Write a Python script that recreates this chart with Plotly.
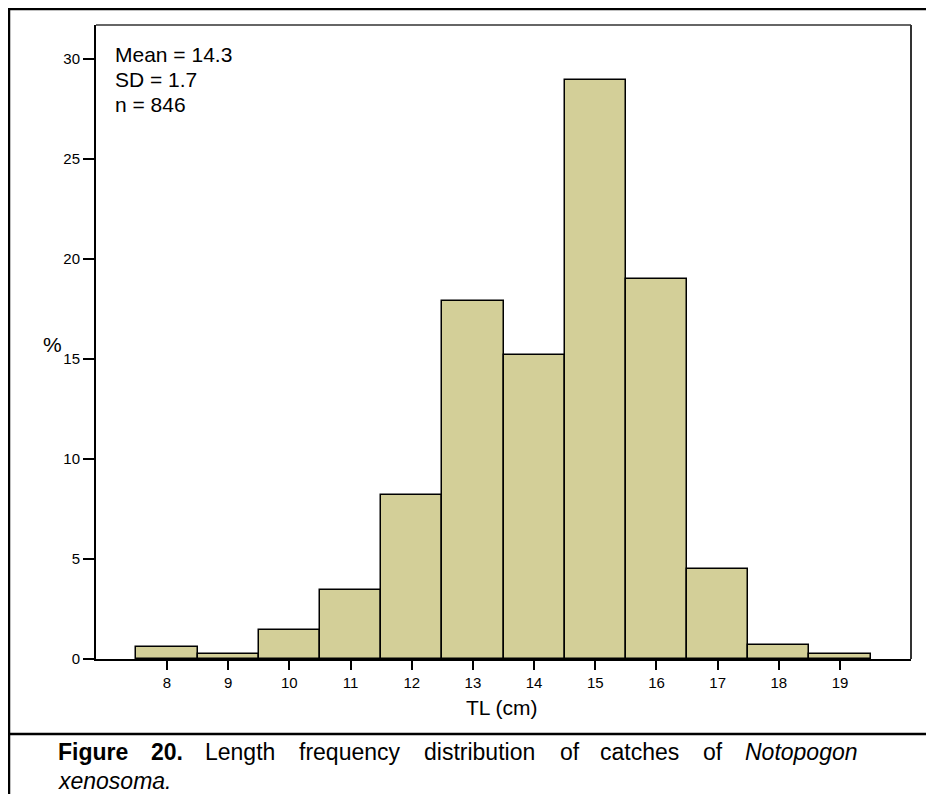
import plotly.graph_objects as go

# ---- data ----
lengths_cm = [8, 9, 10, 11, 12, 13, 14, 15, 16, 17, 18, 19]
percent = [0.58, 0.23, 1.43, 3.45, 8.18, 17.9, 15.18, 28.93, 18.98, 4.52, 0.72, 0.23]
y_ticks = [0, 5, 10, 15, 20, 25, 30]
stats_lines = ["Mean = 14.3", "SD = 1.7", "n = 846"]
x_title = "TL (cm)"
y_title = "%"

# page offset (browser body margin)
OFF = 8
W, H = 934 - OFF, 794 - OFF
# plot area in screen pixels
SL, SR, ST, SB = 96, 911, 25, 659
L, R, T, B = SL - OFF, SR - OFF, ST - OFF, SB - OFF
FONT = "Liberation Sans, Arial, Helvetica, sans-serif"


def px(x):
    """screen x pixel -> paper"""
    return (x - SL) / (SR - SL)


def py(y):
    """screen y pixel -> paper"""
    return (SB - y) / (SB - ST)


fig = go.Figure()
fig.add_trace(go.Bar(
    x=lengths_cm, y=percent, width=1,
    marker=dict(color="#D3CF98", line=dict(color="black", width=1.5)),
    showlegend=False, hoverinfo="x+y",
))

annotations = []
for txt, yc in zip(stats_lines, [54.5, 79.5, 104.5]):
    annotations.append(dict(x=px(113), y=py(yc), xref="paper", yref="paper",
                            text=txt, showarrow=False, xanchor="left", yanchor="middle",
                            font=dict(size=21, color="black", family=FONT)))
annotations.append(dict(x=px(502), y=py(707), xref="paper", yref="paper", text=x_title,
                        showarrow=False, xanchor="center", yanchor="middle",
                        font=dict(size=21, color="black", family=FONT)))
annotations.append(dict(x=px(52), y=py(344), xref="paper", yref="paper", text=y_title,
                        showarrow=False, xanchor="center", yanchor="middle",
                        font=dict(size=21, color="black", family=FONT)))
caption_words = [("<b>Figure</b>", 56), ("<b>20.</b>", 149), ("Length", 203), ("frequency", 297),
                 ("distribution", 422), ("of", 558), ("catches", 598), ("of", 701),
                 ("<i>Notopogon</i>", 743)]
for w, x0 in caption_words:
    annotations.append(dict(x=px(x0), y=py(752), xref="paper", yref="paper", text=w,
                            showarrow=False, xanchor="left", yanchor="middle",
                            font=dict(size=23, color="black", family=FONT)))
annotations.append(dict(x=px(56), y=py(781), xref="paper", yref="paper", text="<i>xenosoma.</i>",
                        showarrow=False, xanchor="left", yanchor="middle",
                        font=dict(size=23, color="black", family=FONT)))

shapes = [
    dict(type="line", xref="paper", yref="paper", x0=px(8), x1=px(950), y0=py(9), y1=py(9),
         line=dict(color="black", width=2.5)),
    dict(type="line", xref="paper", yref="paper", x0=px(9), x1=px(9), y0=py(8), y1=py(810),
         line=dict(color="black", width=2.5)),
    dict(type="line", xref="paper", yref="paper", x0=px(8), x1=px(950), y0=py(734), y1=py(734),
         line=dict(color="black", width=2.5)),
    dict(type="line", xref="paper", yref="paper", x0=0, x1=1, y0=1, y1=1,
         line=dict(color="#333333", width=1.5)),
    dict(type="line", xref="paper", yref="paper", x0=1, x1=1, y0=0, y1=1,
         line=dict(color="#333333", width=2)),
]

fig.update_layout(
    width=W, height=H,
    margin=dict(l=L, r=W - R, t=T, b=H - B, pad=0),
    paper_bgcolor="white", plot_bgcolor="white",
    bargap=0,
    font=dict(family=FONT, color="black", size=15),
    annotations=annotations,
    shapes=shapes,
    modebar=dict(bgcolor="rgba(0,0,0,0)", color="rgba(0,0,0,0)", activecolor="rgba(0,0,0,0)"),
    xaxis=dict(range=[6.84, 20.16], tickmode="array", tickvals=lengths_cm,
               ticktext=[str(v) for v in lengths_cm], ticks="outside", ticklen=9,
               tickwidth=2, tickcolor="black", showline=True, linecolor="black",
               linewidth=2, showgrid=False, zeroline=False,
               tickfont=dict(size=15, family=FONT, color="black")),
    yaxis=dict(range=[0, 31.7], tickmode="array", tickvals=y_ticks,
               ticktext=[str(v) for v in y_ticks], ticks="outside", ticklen=11,
               tickwidth=2, tickcolor="black", showline=True, linecolor="black",
               linewidth=2, showgrid=False, zeroline=False,
               tickfont=dict(size=15, family=FONT, color="black")),
)

fig.write_html("out.html")
